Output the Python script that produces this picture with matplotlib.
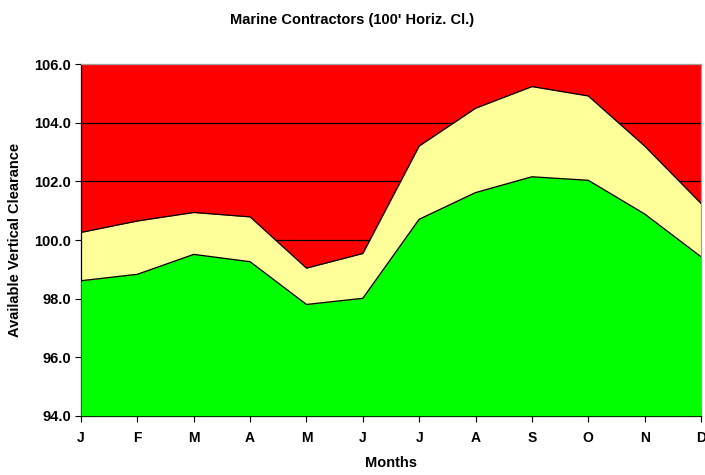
import matplotlib
matplotlib.use("Agg")
import matplotlib.pyplot as plt
import numpy as np
from matplotlib.ticker import FormatStrFormatter

months = ['J', 'F', 'M', 'A', 'M', 'J', 'J', 'A', 'S', 'O', 'N', 'D']
lower = [98.61, 98.83, 99.51, 99.26, 97.80, 98.01, 100.71, 101.62, 102.16, 102.04, 100.89, 99.43]
upper = [100.26, 100.65, 100.94, 100.79, 99.04, 99.54, 103.21, 104.50, 105.24, 104.92, 103.21, 101.25]
ymin, ymax = 94.0, 106.0

plt.rcParams['font.family'] = ['Liberation Sans', 'DejaVu Sans']
plt.rcParams['font.weight'] = 'bold'

fig = plt.figure(figsize=(7.05, 4.75), dpi=100)
ax = fig.add_axes([0.1149, 0.1248, 0.8794, 0.7398])

x = np.arange(len(months))
ax.set_facecolor('#FF0000')
for yv in [100, 102, 104]:
    ax.axhline(yv, color='black', linewidth=0.9, zorder=1)

ax.fill_between(x, lower, upper, color='#FFFF99', linewidth=0, zorder=2)
ax.fill_between(x, ymin, lower, color='#00FF00', linewidth=0, zorder=3)
ax.plot(x, upper, color='black', linewidth=0.9, zorder=4)
ax.plot(x, lower, color='black', linewidth=0.9, zorder=4)

ax.set_xlim(0, len(months) - 1)
ax.set_ylim(ymin, ymax)
ax.set_xticks(x)
ax.set_xticklabels(months, fontsize=10, fontweight='bold')
ax.set_yticks(np.arange(94, 107, 2))
ax.yaxis.set_major_formatter(FormatStrFormatter('%.1f'))
for lab in ax.get_yticklabels():
    lab.set_fontsize(10.5)
    lab.set_fontweight('bold')
ax.tick_params(axis='both', direction='out', length=4, width=0.8, color='black')
ax.tick_params(axis='x', pad=7)
ax.tick_params(axis='y', pad=3)

for side in ['top', 'right']:
    ax.spines[side].set_color('#A0A0A0')
    ax.spines[side].set_linewidth(0.9)
for side in ['left', 'bottom']:
    ax.spines[side].set_color('black')
    ax.spines[side].set_linewidth(0.9)

ax.set_xlabel('Months', fontsize=10.5, fontweight='bold', labelpad=8)
ax.set_ylabel('Available Vertical Clearance', fontsize=10.5, fontweight='bold', labelpad=9)
fig.text(0.5, 0.957, "Marine Contractors (100' Horiz. Cl.)", ha='center', va='center',
         fontsize=10.5, fontweight='bold')

fig.savefig('out.png', dpi=100)
